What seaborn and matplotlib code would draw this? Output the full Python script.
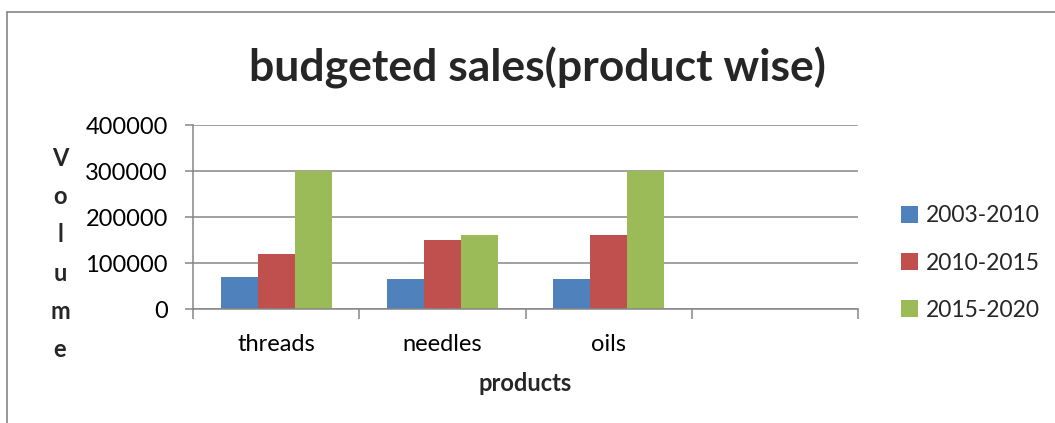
import matplotlib
matplotlib.use("Agg")
import matplotlib.pyplot as plt
import seaborn as sns
import pandas as pd
from matplotlib.lines import Line2D
from matplotlib.patches import Patch

categories = ["threads", "needles", "oils"]
slots = ["threads", "needles", "oils", ""]
series = ["2003-2010", "2010-2015", "2015-2020"]
values_2003_2010 = [70000, 65000, 65000]
values_2010_2015 = [120000, 150000, 160000]
values_2015_2020 = [300000, 160000, 300000]
colors = ["#4F81BD", "#C0504D", "#9BBB59"]
yticks = [0, 100000, 200000, 300000, 400000]

rows = []
for s, vals in zip(series, [values_2003_2010, values_2010_2015, values_2015_2020]):
    for c, v in zip(categories, vals):
        rows.append({"product": c, "period": s, "volume": v})
df = pd.DataFrame(rows)

sns.set_theme(style="white")
plt.rcParams["font.family"] = ["Lato", "DejaVu Sans"]

W, H = 1055, 423
fig = plt.figure(figsize=(W / 100, H / 100), dpi=100)
ax = fig.add_axes([193 / W, 1 - 309 / H, (858 - 193) / W, (309 - 125) / H])

sns.barplot(data=df, x="product", y="volume", hue="period", order=slots,
            hue_order=series, palette=colors, width=0.667, saturation=1,
            linewidth=0, ax=ax, legend=False)

ax.set_xlim(-0.5, 3.5)
ax.set_ylim(0, 400000)
ax.set_yticks(yticks)
ax.set_yticklabels([str(v) for v in yticks], fontsize=17, color="black")
ax.yaxis.grid(True, color="#868686", linewidth=1.1)
ax.set_axisbelow(True)
ax.tick_params(axis="y", length=6, width=1.1, color="#868686", pad=12, left=True)

ax.set_xticks([0, 1, 2, 3])
ax.set_xticklabels(slots, fontsize=17, color="black")
ax.set_xticks([-0.5, 0.5, 1.5, 2.5, 3.5], minor=True)
ax.tick_params(axis="x", which="major", length=0, pad=18)
ax.tick_params(axis="x", which="minor", length=7, width=1.1, color="#868686", bottom=True)

for side in ["top", "right"]:
    ax.spines[side].set_visible(False)
for side in ["left", "bottom"]:
    ax.spines[side].set_color("#868686")
    ax.spines[side].set_linewidth(1.1)

ax.set_xlabel("")
ax.set_ylabel("")

fig.text(525 / W, 1 - 383 / H, "products", ha="center", va="center",
         fontsize=17, fontweight="bold")
fig.text(60 / W, 1 - 254 / H, "V\no\nl\nu\nm\ne", ha="center", va="center",
         fontsize=17, fontweight="bold", linespacing=1.8)
fig.text(537 / W, 1 - 68 / H, "budgeted sales(product wise)", ha="center",
         va="center", fontsize=32, fontweight="bold")

handles = [Patch(facecolor=c, edgecolor="none") for c in colors]
fig.legend(handles, series, loc="center left", bbox_to_anchor=(880 / W, 1 - 263 / H),
           frameon=False, fontsize=16.5, handlelength=0.75, handleheight=0.75,
           handletextpad=0.35, labelspacing=1.15)

fig.add_artist(Line2D([7 / W, 7 / W], [0, 1 - 12 / H], transform=fig.transFigure,
                      color="#868686", linewidth=1.2))
fig.add_artist(Line2D([7 / W, 1], [1 - 12 / H, 1 - 12 / H], transform=fig.transFigure,
                      color="#868686", linewidth=1.2))

fig.savefig("out.png", dpi=100)
